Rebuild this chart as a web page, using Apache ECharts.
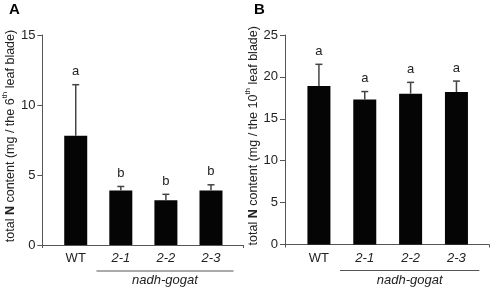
<!DOCTYPE html>
<html><head><meta charset="utf-8">
<script src="https://cdn.jsdelivr.net/npm/echarts@6/dist/echarts.min.js"></script>
<style>html,body{margin:0;padding:0;background:#fff}#c{width:491px;height:288px}</style>
</head><body><div id="c"></div>
<script>
const categories = ['WT', '2-1', '2-2', '2-3'];
const groupLabel = 'nadh-gogat';
// Panel A: 6th leaf blade
const meanA = [7.8, 3.9, 3.2, 3.9];
const errA = [3.65, 0.28, 0.42, 0.4];
const letterA = ['a', 'b', 'b', 'b'];
const ticksA = [0, 5, 10, 15];
// Panel B: 10th leaf blade
const meanB = [18.9, 17.3, 18.0, 18.2];
const errB = [2.6, 0.95, 1.35, 1.3];
const letterB = ['a', 'a', 'a', 'a'];
const ticksB = [0, 5, 10, 15, 20, 25];

const FONT = 'Arial, "Liberation Sans", sans-serif';
const AXC = '#555';
const TXT = '#222';
const XMIN = -0.74, XMAX = 3.71;

function xAxisFor(gi) {
  return {
    type: 'value', gridIndex: gi, min: XMIN, max: XMAX,
    splitLine: {show: false},
    axisLine: {show: true, onZero: false, lineStyle: {color: AXC, width: 1}},
    axisTick: {show: true, length: 3, lineStyle: {color: AXC}, customValues: [XMIN, XMAX]},
    axisLabel: {
      show: true, margin: 7, customValues: [0, 1, 2, 3],
      formatter: function (v) {
        const i = Math.round(v);
        return i === 0 ? '{n|' + categories[i] + '}' : '{i|' + categories[i] + '}';
      },
      rich: {
        n: {fontFamily: FONT, fontSize: 13, color: TXT},
        i: {fontFamily: FONT, fontSize: 13, color: TXT, fontStyle: 'italic'}
      }
    }
  };
}
function yAxisFor(gi, ticks, leaf) {
  return {
    type: 'value', gridIndex: gi, min: 0, max: ticks[ticks.length - 1], interval: 5,
    splitLine: {show: false},
    axisLine: {show: true, onZero: false, lineStyle: {color: AXC, width: 1}},
    axisTick: {show: true, length: 5, lineStyle: {color: AXC}},
    axisLabel: {margin: 7, fontFamily: FONT, fontSize: 13, color: TXT},
    name: '{t|total }{b|N}{t| content (mg / the ' + leaf + '}{s|th}{t| leaf blade)}',
    nameLocation: 'middle', nameRotate: 90, nameGap: 23,
    nameTextStyle: {
      padding: [0, 0, 0, 8],
      rich: {
        t: {fontFamily: FONT, fontSize: 12.5, color: TXT, lineHeight: 16, verticalAlign: 'bottom'},
        b: {fontFamily: FONT, fontSize: 12.5, color: TXT, fontWeight: 'bold', lineHeight: 16, verticalAlign: 'bottom'},
        s: {fontFamily: FONT, fontSize: 8, color: TXT, lineHeight: 16, verticalAlign: 'top'}
      }
    }
  };
}
function barData(mean) { return mean.map((m, i) => [i, m]); }
function errData(mean, err) { return mean.map((m, i) => [i, m, err[i]]); }
function errSeries(gi, mean, err, letters) {
  return {
    type: 'custom', xAxisIndex: gi, yAxisIndex: gi, data: errData(mean, err), clip: false, z: 5,
    renderItem: function (params, api) {
      const x = api.value(0), m = api.value(1), e = api.value(2);
      const p0 = api.coord([x, m]), p1 = api.coord([x, m + e]);
      const st = {stroke: '#444', lineWidth: 1.5};
      return {type: 'group', children: [
        {type: 'line', shape: {x1: p0[0], y1: p0[1], x2: p1[0], y2: p1[1]}, style: st},
        {type: 'line', shape: {x1: p1[0] - 3.5, y1: p1[1], x2: p1[0] + 3.5, y2: p1[1]}, style: st},
        {type: 'text', x: p1[0], y: p1[1] - 13, style: {text: letters[params.dataIndex], fill: TXT,
          font: '13px ' + FONT, align: 'center', verticalAlign: 'middle'}}
      ]};
    }
  };
}
function groupSeries(gi) {
  return {
    type: 'custom', xAxisIndex: gi, yAxisIndex: gi, data: [[0.46, 0, 3.5]], clip: false, silent: true,
    renderItem: function (params, api) {
      const a = api.coord([api.value(0), 0]), b = api.coord([api.value(2), 0]);
      const y = a[1] + 26;
      return {type: 'group', children: [
        {type: 'line', shape: {x1: a[0], y1: y, x2: b[0], y2: y}, style: {stroke: '#555', lineWidth: 1}},
        {type: 'text', x: (a[0] + b[0]) / 2, y: y + 9.5, style: {text: groupLabel, fill: TXT,
          font: 'italic 13px ' + FONT, align: 'center', verticalAlign: 'middle'}}
      ]};
    }
  };
}

const chart = echarts.init(document.getElementById('c'), null, {renderer: 'canvas'});
chart.setOption({
  animation: false,
  backgroundColor: '#fff',
  title: [
    {text: 'A', left: 9, top: 2, padding: 0, textStyle: {fontFamily: FONT, fontSize: 15, fontWeight: 'bold', color: '#000'}},
    {text: 'B', left: 254, top: 2, padding: 0, textStyle: {fontFamily: FONT, fontSize: 15, fontWeight: 'bold', color: '#000'}}
  ],
  grid: [
    {left: 39, top: 35, width: 204, height: 210},
    {left: 285, top: 35, width: 204, height: 209.5}
  ],
  xAxis: [xAxisFor(0), xAxisFor(1)],
  yAxis: [yAxisFor(0, ticksA, '6'), yAxisFor(1, ticksB, '10')],
  series: [
    {type: 'bar', xAxisIndex: 0, yAxisIndex: 0, data: barData(meanA), barWidth: 23, itemStyle: {color: '#050505'}},
    errSeries(0, meanA, errA, letterA),
    groupSeries(0),
    {type: 'bar', xAxisIndex: 1, yAxisIndex: 1, data: barData(meanB), barWidth: 23, itemStyle: {color: '#050505'}},
    errSeries(1, meanB, errB, letterB),
    groupSeries(1)
  ]
});
</script>
</body></html>
